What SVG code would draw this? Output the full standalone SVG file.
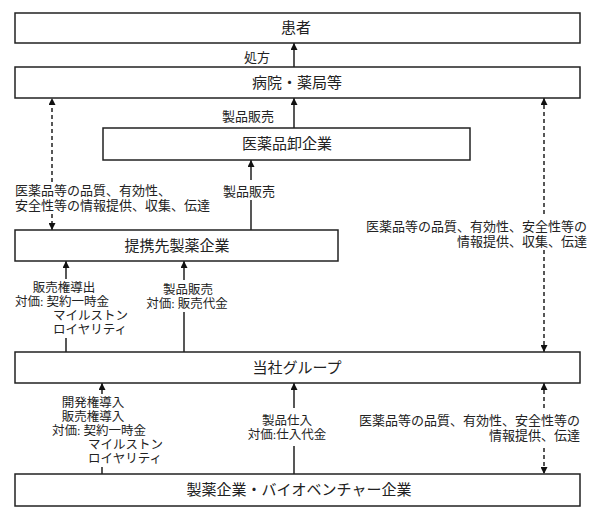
<svg xmlns="http://www.w3.org/2000/svg" width="602" height="512" viewBox="0 0 602 512">
<style>
.box{fill:#fff;stroke:#222;stroke-width:1.5}
.t{font-family:"Liberation Serif","Noto Sans CJK JP",serif;fill:#222;dominant-baseline:central}
.bt{font-size:15px;text-anchor:middle}
.s{font-size:13px}
.c{font-size:12.5px}
.m{text-anchor:middle}
.e{text-anchor:end}
.ln{stroke:#111;stroke-width:1.4;fill:none}
.d{stroke-dasharray:4 3}
</style>
<defs>
<marker id="ah" markerUnits="userSpaceOnUse" viewBox="0 0 10 10" refX="10" refY="5" markerWidth="7" markerHeight="7" orient="auto">
<path d="M0,0 L10,5 L0,10 z" fill="#111"/>
</marker>
</defs>
<rect width="602" height="512" fill="#fff"/>
<g id="connectors">
<path class="ln" d="M294,67 V43" marker-end="url(#ah)"/>
<path class="ln" d="M294,128 V98" marker-end="url(#ah)"/>
<path class="ln" d="M251,180 V160" marker-end="url(#ah)"/>
<path class="ln" d="M251,230 V200"/>
<path class="ln d" d="M52,182 V98" marker-end="url(#ah)"/>
<path class="ln d" d="M52,214 V230" marker-end="url(#ah)"/>
<path class="ln d" d="M544,214 V98" marker-end="url(#ah)"/>
<path class="ln d" d="M544,250 V352" marker-end="url(#ah)"/>
<path class="ln" d="M66,279 V261" marker-end="url(#ah)"/>
<path class="ln" d="M66,352 V338"/>
<path class="ln" d="M184,280 V261" marker-end="url(#ah)"/>
<path class="ln" d="M184,352 V312"/>
<path class="ln" d="M102,394 V383" marker-end="url(#ah)"/>
<path class="ln" d="M102,474 V467"/>
<path class="ln" d="M294,408 V383" marker-end="url(#ah)"/>
<path class="ln" d="M294,474 V446"/>
<path class="ln d" d="M544,408 V383" marker-end="url(#ah)"/>
<path class="ln d" d="M544,448 V474" marker-end="url(#ah)"/>
</g>
<g id="patient"><rect class="box" x="15" y="13" width="565" height="30"/><text class="t bt" x="296" y="28">患者</text></g>
<g id="hospital"><rect class="box" x="15" y="67" width="565" height="31"/><text class="t bt" x="297" y="83">病院・薬局等</text></g>
<g id="wholesaler"><rect class="box" x="103" y="128" width="367" height="32"/><text class="t bt" x="287" y="144">医薬品卸企業</text></g>
<g id="partner"><rect class="box" x="15" y="230" width="323" height="31"/><text class="t bt" x="177" y="246">提携先製薬企業</text></g>
<g id="group"><rect class="box" x="15" y="352" width="565" height="31"/><text class="t bt" x="297" y="368">当社グループ</text></g>
<g id="pharma"><rect class="box" x="15" y="474" width="565" height="32"/><text class="t bt" x="299" y="490">製薬企業・バイオベンチャー企業</text></g>
<g id="labels">
<text class="t s m" x="257" y="57">処方</text>
<text class="t s m" x="248" y="116">製品販売</text>
<text class="t s m" x="249" y="191">製品販売</text>
<text class="t s" x="15" y="190">医薬品等の品質、有効性、</text>
<text class="t s" x="15" y="205">安全性等の情報提供、収集、伝達</text>
<text class="t s e" x="587" y="226">医薬品等の品質、有効性、安全性等の</text>
<text class="t s e" x="587" y="241">情報提供、収集、伝達</text>
<text class="t c m" x="64" y="288">販売権導出</text>
<text class="t c" x="15" y="302">対価: 契約一時金</text>
<text class="t c" x="53" y="316">マイルストン</text>
<text class="t c" x="53" y="330">ロイヤリティ</text>
<text class="t c m" x="188" y="290">製品販売</text>
<text class="t c m" x="187" y="304">対価: 販売代金</text>
<text class="t c m" x="93" y="403">開発権導入</text>
<text class="t c m" x="93" y="417">販売権導入</text>
<text class="t c" x="52" y="431">対価: 契約一時金</text>
<text class="t c" x="88" y="445">マイルストン</text>
<text class="t c" x="88" y="459">ロイヤリティ</text>
<text class="t c m" x="287" y="421">製品仕入</text>
<text class="t c m" x="287" y="435">対価:仕入代金</text>
<text class="t s e" x="580" y="420">医薬品等の品質、有効性、安全性等の</text>
<text class="t s e" x="580" y="435">情報提供、伝達</text>
</g>
</svg>
